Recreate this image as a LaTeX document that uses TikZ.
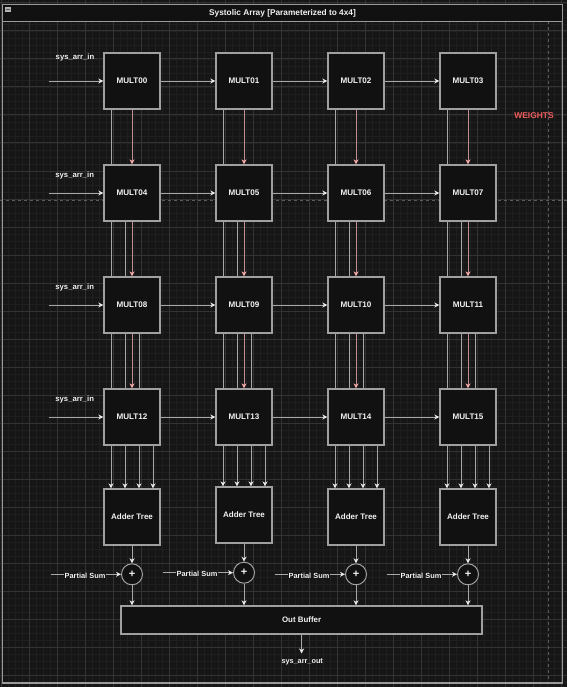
\documentclass[tikz,border=0pt]{standalone}
\usepackage{fontspec}
\setmainfont{Liberation Sans}
\usetikzlibrary{arrows.meta,calc}
\pgfdeclarelayer{bg}
\pgfsetlayers{bg,main}
\definecolor{bgc}{HTML}{161616}
\definecolor{gminor}{HTML}{1F1F1F}
\definecolor{gmajor}{HTML}{333333}
\definecolor{boxf}{HTML}{111111}
\definecolor{boxc}{HTML}{A0A0A0}
\definecolor{framec}{HTML}{9A9A9A}
\definecolor{linec}{HTML}{A8A8A8}
\definecolor{headc}{HTML}{E8E8E8}
\definecolor{pinkl}{HTML}{C09090}
\definecolor{pinkh}{HTML}{F4A8A8}
\definecolor{dashc}{HTML}{5C5C5C}
\definecolor{txt}{HTML}{F2F2F2}
\definecolor{weightc}{HTML}{F05A5A}
\definecolor{iconf}{HTML}{B4B4B4}
\definecolor{iconl}{HTML}{555555}
\newcommand{\myfs}[1]{\fontsize{#1}{#1}\selectfont}
\tikzset{
  box/.style={draw=boxc, fill=boxf, line width=1.3pt, inner sep=0pt, text=txt},
  mult/.style={box, minimum width=56pt, minimum height=56pt, font=\bfseries\myfs{8.1}},
  adder/.style={box, minimum width=56pt, minimum height=56pt, font=\bfseries\myfs{8}},
  plus/.style={circle, draw=boxc, fill=boxf, line width=1pt, minimum size=21pt, inner sep=0pt, text=txt, font=\bfseries\myfs{11}},
  conn/.style={draw=linec, line width=0.9pt, -{Stealth[length=5pt,width=5pt,inset=1.5pt,color=headc,fill=headc]}},
  plainln/.style={draw=linec, line width=0.9pt},
  pinkarr/.style={draw=pinkl, line width=0.9pt, -{Stealth[length=5pt,width=5pt,inset=1.5pt,color=pinkh,fill=pinkh]}},
  lbl/.style={text=txt, inner sep=0.5pt, font=\bfseries\myfs{7.7}},
}
\begin{document}
\begin{tikzpicture}[x=1pt,y=-1pt]
\useasboundingbox (0,0) rectangle (567,687);
\begin{pgfonlayer}{bg}
  \fill[bgc] (0,0) rectangle (567,687);
  \foreach \x in {1.3,8.3,...,567} \draw[gminor, line width=0.7pt] (\x,0) -- (\x,687);
  \foreach \y in {3,10,...,687} \draw[gminor, line width=0.7pt] (0,\y) -- (567,\y);
  \foreach \x in {1.3,29.3,...,567} \draw[gmajor, line width=1pt] (\x,0) -- (\x,687);
  \foreach \y in {3,31,...,687} \draw[gmajor, line width=1pt] (0,\y) -- (567,\y);
  % page break lines
  \draw[dashc, line width=0.9pt, dash pattern=on 3pt off 3pt] (0,200.5) -- (567,200.5);
  \draw[dashc, line width=0.9pt, dash pattern=on 3pt off 3pt] (548.5,21.5) -- (548.5,683);
  % container frame
  \fill[boxf] (2.2,4.3) rectangle (562.4,21.5);
  \draw[framec, line width=1.2pt] (2.2,4.3) rectangle (562.4,683);
  \draw[framec, line width=1.2pt] (2.2,21.5) -- (562.4,21.5);
  \fill[iconf] (5,6.8) rectangle (10.8,12.3);
  \draw[iconl, line width=1pt] (6,9.55) -- (9.8,9.55);
\end{pgfonlayer}

\node[text=txt, font=\bfseries\myfs{8.3}] (title) at (282.5,12.9) {Systolic Array [Parameterized to 4x4]};

% multipliers
\foreach \r in {0,...,3} {
  \foreach \c in {0,...,3} {
    \pgfmathtruncatemacro\n{4*\r+\c}
    \node[mult] (m\r\c) at ({132+112*\c},{81+112*\r}) {MULT\ifnum\n<10 0\fi\n};
  }
}

% adder trees and summing circles
\node[adder] (a0) at (132,517) {Adder Tree};
\node[adder] (a1) at (244,515) {Adder Tree};
\node[adder] (a2) at (356,517) {Adder Tree};
\node[adder] (a3) at (468,517) {Adder Tree};
\node[plus] (p0) at (132,574.3) {+};
\node[plus] (p1) at (244,572.7) {+};
\node[plus] (p2) at (356,574.3) {+};
\node[plus] (p3) at (468,574.3) {+};

\node[box, minimum width=361pt, minimum height=28pt, font=\bfseries\myfs{7.9}] (ob) at (301.6,620) {Out Buffer};
\node[lbl, font=\bfseries\myfs{7.3}] (out) at (302.2,662.3) {sys\_arr\_out};
\coordinate (outtip) at (301.6,653.5);
\draw[conn] (ob.south) -- (outtip);

% pass-through lines behind the multipliers
\begin{pgfonlayer}{bg}
\foreach \c in {0,...,3} {
  \foreach \r in {0,1,2} {
    \draw[plainln] ([xshift={-21+14*\r}]m\r\c.south) -- ([xshift={-21+14*\r}]m3\c.south);
  }
}
\end{pgfonlayer}

\foreach \c in {0,...,3} {
  \foreach \r in {0,...,3} {
    \draw[conn] ([xshift={-21+14*\r}]m3\c.south) -- ([xshift={-21+14*\r}]m3\c.south |- a\c.north);
  }
  \draw[conn] (a\c.south) -- (p\c.north);
  \draw[conn] (p\c.south) -- (p\c.south |- ob.north);
}

% weights (pink) downward
\foreach \r in {0,1,2} {
  \pgfmathtruncatemacro\rn{\r+1}
  \foreach \c in {0,...,3} {
    \draw[pinkarr] (m\r\c.south) -- (m\rn\c.north);
  }
}

% inputs along rows
\foreach \r in {0,...,3} {
  \coordinate (src\r) at (48.5,{81+112*\r});
  \draw[conn] (src\r) -- (m\r0.west);
  \foreach \c in {0,1,2} {
    \pgfmathtruncatemacro\cn{\c+1}
    \draw[conn] (m\r\c.east) -- (m\r\cn.west);
  }
}
\node[lbl] (in0) at (75,57.3) {sys\_arr\_in};
\node[lbl] (in1) at (74.7,175.5) {sys\_arr\_in};
\node[lbl] (in2) at (74.7,287.7) {sys\_arr\_in};
\node[lbl] (in3) at (74.7,399.5) {sys\_arr\_in};

% partial sums
\foreach \c/\py in {0/574.3,1/572.7,2/574.3,3/574.3} {
  \coordinate (ps\c) at ({51+112*\c},\py);
  \draw[conn] (ps\c) -- (p\c.west);
  \node[lbl, fill=bgc, font=\bfseries\myfs{7.4}] (psl\c) at ({85+112*\c},{\py+1.5}) {Partial Sum};
}

\node[text=weightc, font=\bfseries\myfs{8.4}] (weights) at (534,116) {WEIGHTS};
\end{tikzpicture}
\end{document}
